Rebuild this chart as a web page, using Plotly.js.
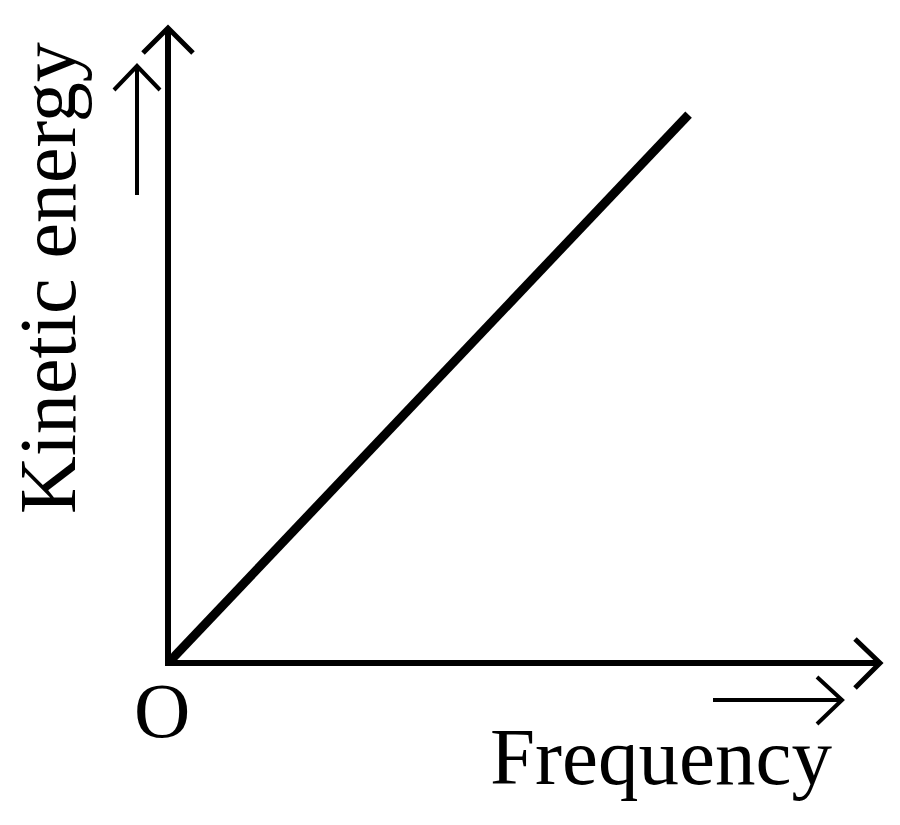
<!DOCTYPE html>
<html>
<head>
<meta charset="utf-8">
<script src="https://cdn.plot.ly/plotly-3.0.1.min.js"></script>
<style>html,body{margin:0;padding:0;background:#fff;}#chart{width:900px;height:825px;}</style>
</head>
<body>
<div id="chart"></div>
<script>
// Data
const frequency = [0, 7.3];
const kineticEnergy = [0, 8.63];
const xLabel = "Frequency";
const yLabel = "Kinetic energy";
const originLabel = "O";

const serif = "Liberation Serif, Times New Roman, serif";

const trace = {
  x: frequency,
  y: kineticEnergy,
  type: "scatter",
  mode: "lines",
  line: {color: "#000", width: 9},
  cliponaxis: false,
  hoverinfo: "skip"
};

const L = 171, B = 165, T = 28, R = 20;
const PW = 900 - L - R, PH = 825 - T - B;
function P(px, py) { return [(px - L) / PW, (825 - B - py) / PH]; }
function path(points) {
  return points.map((p, i) => (i ? "L" : "M") + " " + P(p[0], p[1]).join(",")).join(" ");
}
const shapeLine = (pts, w) => ({
  type: "path", xref: "paper", yref: "paper",
  path: path(pts), line: {color: "#000", width: w}
});

const shapes = [
  shapeLine([[143, 53], [168, 28], [193, 53]], 5),
  shapeLine([[855, 639], [880, 663], [855, 688]], 5),
  shapeLine([[137, 195], [137, 66]], 4),
  shapeLine([[114, 90], [137, 66], [160, 90]], 4),
  shapeLine([[713, 700], [842, 700]], 4),
  shapeLine([[817, 677], [842, 700], [817, 724]], 4)
];

const layout = {
  width: 900, height: 825,
  margin: {l: L, r: R, t: T, b: B},
  paper_bgcolor: "#fff", plot_bgcolor: "#fff",
  showlegend: false,
  xaxis: {range: [0, 10], showline: true, linewidth: 6, linecolor: "#000",
          showgrid: false, zeroline: false, showticklabels: false, ticks: "", fixedrange: true},
  yaxis: {range: [0, 10], showline: true, linewidth: 6, linecolor: "#000",
          showgrid: false, zeroline: false, showticklabels: false, ticks: "", fixedrange: true},
  shapes: shapes,
  annotations: [
    {text: originLabel, xref: "paper", yref: "paper", x: P(162, 0)[0], y: P(0, 710)[1],
     xanchor: "center", yanchor: "middle", showarrow: false,
     font: {family: serif, size: 78, color: "#000"}},
    {text: xLabel, xref: "paper", yref: "paper", x: P(488, 0)[0], y: P(0, 757)[1],
     xanchor: "left", yanchor: "middle", showarrow: false,
     font: {family: serif, size: 81, color: "#000"}},
    {text: yLabel, xref: "paper", yref: "paper", x: P(48, 0)[0], y: P(0, 278)[1],
     xanchor: "center", yanchor: "middle", textangle: -90, showarrow: false,
     font: {family: serif, size: 80, color: "#000"}}
  ]
};

Plotly.newPlot("chart", [trace], layout, {displayModeBar: false, staticPlot: true});
</script>
</body>
</html>
